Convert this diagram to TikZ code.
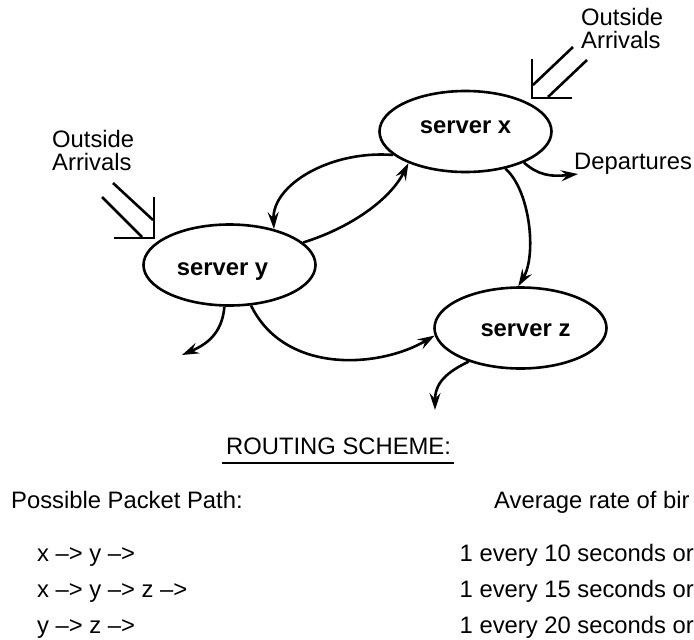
\documentclass[tikz,border=0pt]{standalone}
\usepackage{fontspec}
\setmainfont{Liberation Sans}
\usetikzlibrary{shapes.geometric,arrows.meta}
\begin{document}
\begin{tikzpicture}[x=1pt,y=-1pt,
  server/.style={ellipse,draw,line width=2.6pt,minimum width=172pt,minimum height=81pt,
    inner sep=0pt,font=\fontsize{23.8}{26}\selectfont\bfseries},
  lbl/.style={inner sep=0pt,anchor=base west,font=\fontsize{23.8}{26}\selectfont},
  conn/.style={line width=2.6pt,-{Stealth[length=17pt,width=11pt,inset=6pt]}},
  dbl/.style={line width=2.6pt}]
\useasboundingbox (0,0) rectangle (694,640);
\clip (0,0) rectangle (694,640);

% servers
\node[server,text height=12pt,text depth=9pt] (x) at (465.5,131.5) {server x};
\node[server,text height=20pt,text depth=0pt] (y) at (229.5,265) {server y\hspace*{14pt}};
\node[server,text height=16pt,text depth=0pt] (z) at (520.5,328) {\hspace*{10pt}server z};

% free ends
\coordinate (xdep) at (578,174);
\coordinate (ydep) at (182,355);
\coordinate (zdep) at (435,410);

% connectors
\draw[conn] (x.198) .. controls (330,150) and (272,185) .. (y.39);
\draw[conn] (y.17) .. controls (350,228) and (390,200) .. (x.209);
\draw[conn] (x.-43) .. controls (530,190) and (537,255) .. (z.93);
\draw[conn] (y.-62) .. controls (285,375) and (380,368) .. (z.185);
\draw[conn] (y.-97) .. controls (222,335) and (205,345) .. (ydep);
\draw[conn] (z.213) .. controls (440,375) and (435,388) .. (zdep);
\draw[conn] (x.-28) .. controls (538,175) and (550,177) .. (xdep);

% outside arrivals (double arrows), right
\coordinate (ra1s) at (573,47);  \coordinate (ra1e) at (533,85);
\coordinate (ra2s) at (587,60);  \coordinate (ra2e) at (548,97);
\coordinate (rcu) at (532,59); \coordinate (rc) at (532,98); \coordinate (rcr) at (572,98);
\draw[dbl] (ra1s) -- (ra1e);
\draw[dbl] (ra2s) -- (ra2e);
\draw[dbl] (rcu) -- (rc) -- (rcr);
% left
\coordinate (la1s) at (113,183); \coordinate (la1e) at (153,220);
\coordinate (la2s) at (102,197); \coordinate (la2e) at (142,237);
\coordinate (lcu) at (154,197); \coordinate (lc) at (154,238); \coordinate (lcl) at (114,238);
\draw[dbl] (la1s) -- (la1e);
\draw[dbl] (la2s) -- (la2e);
\draw[dbl] (lcu) -- (lc) -- (lcl);

% labels
\node[lbl] (outR1) at (581,25) {Outside};
\node[lbl] (outR2) at (581,48) {Arrivals};
\node[lbl] (outL1) at (52,147) {Outside};
\node[lbl] (outL2) at (52,170) {Arrivals};
\node[lbl] (dep) at (574,169) {Departures};

% routing scheme
\node[lbl] (rs) at (226,454) {ROUTING SCHEME:};
\draw[line width=2pt] ([xshift=-4pt,yshift=-9pt]rs.base west) -- ([xshift=3pt,yshift=-9pt]rs.base east);
\node[lbl] (pp) at (11,508) {Possible Packet Path:};
\node[lbl] (ar) at (494,508) {Average rate of bir};
\node[lbl] (p1) at (37,561) {x –> y –>};
\node[lbl] (p2) at (37,597) {x –> y –> z –>};
\node[lbl] (p3) at (37,633) {y –> z –>};
\node[lbl] (r1) at (459.5,561) {1 every 10 seconds or};
\node[lbl] (r2) at (459.5,597) {1 every 15 seconds or};
\node[lbl] (r3) at (459.5,633) {1 every 20 seconds or};
\end{tikzpicture}
\end{document}
